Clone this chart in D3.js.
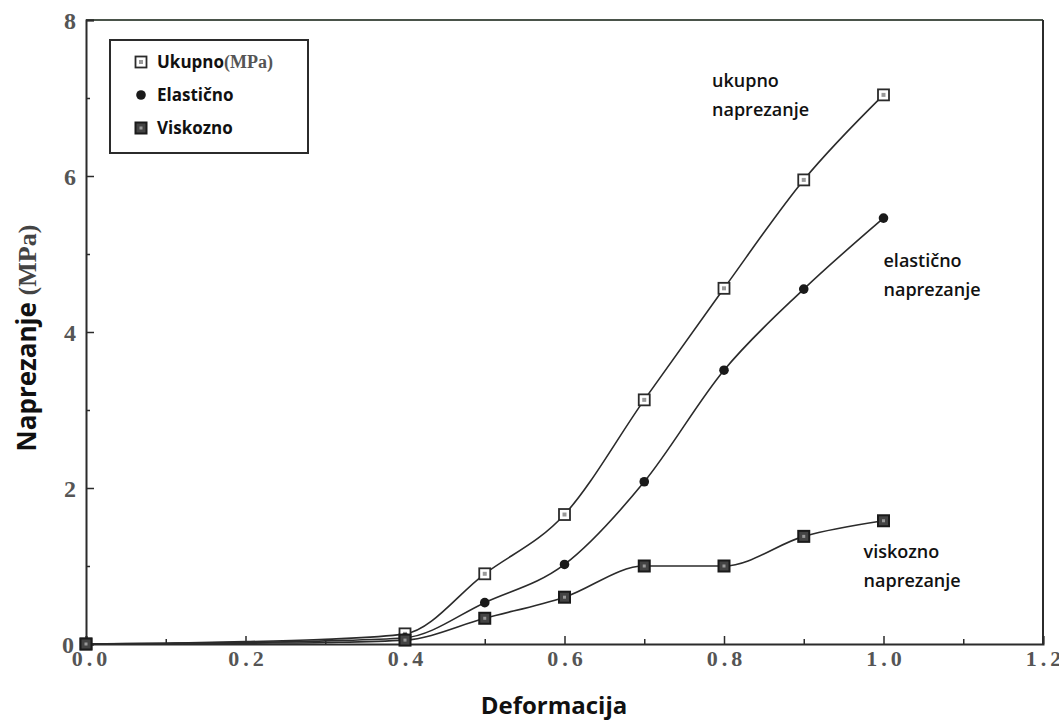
<!DOCTYPE html>
<html>
<head>
<meta charset="utf-8">
<script src="https://cdn.jsdelivr.net/npm/d3@7"></script>
<style>
  html, body { margin: 0; padding: 0; background: #fff; }
  svg { display: block; }
  .tick text { font-family: "Liberation Serif", "DejaVu Serif", serif; font-weight: bold; fill: #555; }
</style>
</head>
<body>
<div id="chart"></div>
<script>
// Data
const deformacija = [0, 0.1, 0.2, 0.3, 0.4, 0.5, 0.6, 0.7, 0.8, 0.9, 1.0];
const ukupno      = [0, 0.01, 0.03, 0.06, 0.13, 0.9, 1.66, 3.13, 4.56, 5.95, 7.04];
const elasticno   = [0, 0.01, 0.02, 0.04, 0.08, 0.53, 1.02, 2.08, 3.51, 4.55, 5.46];
const viskozno    = [0, 0.0, 0.01, 0.02, 0.05, 0.33, 0.6, 1.0, 1.0, 1.38, 1.58];
// points that carry no visible marker in the reference
const unmarkedX = [0.1, 0.2, 0.3];

const xTicks = [0, 0.2, 0.4, 0.6, 0.8, 1.0, 1.2];
const xMinorTicks = [0.1, 0.3, 0.5, 0.7, 0.9, 1.1];
const yTicks = [0, 2, 4, 6, 8];
const yMinorTicks = [1, 3, 5, 7];

const legendLabels = ['Ukupno', 'Elastično', 'Viskozno'];
const annotations = [
  { lines: ['ukupno', 'naprezanje'], x: 0.785, y: 7.14 },
  { lines: ['elastično', 'naprezanje'], x: 1.0, y: 4.83 },
  { lines: ['viskozno', 'naprezanje'], x: 0.975, y: 1.1 }
];

const W = 1059, H = 725;
const svg = d3.select('#chart').append('svg').attr('width', W).attr('height', H);

const x = d3.scaleLinear().domain([0, 1.2]).range([86, 1043]);
const y = d3.scaleLinear().domain([0, 8]).range([644, 20]);

const ink = '#2b2b2b';
const sans = '"Open Sans", Lato, sans-serif';

// Frame (top + right)
svg.append('line').attr('x1', x(0)).attr('x2', x(1.2)).attr('y1', y(8)).attr('y2', y(8))
  .attr('stroke', '#4a544a').attr('stroke-width', 2);
svg.append('line').attr('x1', x(1.2)).attr('x2', x(1.2)).attr('y1', y(8)).attr('y2', y(0))
  .attr('stroke', ink).attr('stroke-width', 2);

// Minor ticks
svg.append('g').attr('transform', `translate(${x(0)},0)`)
  .call(d3.axisLeft(y).tickValues(yMinorTicks).tickSize(-4).tickFormat(''))
  .call(g => g.select('.domain').remove())
  .selectAll('line').attr('stroke', ink).attr('stroke-width', 1.5);
svg.append('g').attr('transform', `translate(0,${y(0)})`)
  .call(d3.axisBottom(x).tickValues(xMinorTicks).tickSize(-5).tickFormat(''))
  .call(g => g.select('.domain').remove())
  .selectAll('line').attr('stroke', ink).attr('stroke-width', 1.5);

// Major axes
const yAxis = svg.append('g').attr('transform', `translate(${x(0)},0)`)
  .call(d3.axisLeft(y).tickValues(yTicks).tickSize(-8).tickPadding(10).tickFormat(d3.format('d')));
yAxis.select('.domain').attr('stroke', ink).attr('stroke-width', 2);
yAxis.selectAll('.tick line').attr('stroke', ink).attr('stroke-width', 1.5);
yAxis.selectAll('.tick text').style('font-size', '24px').attr('dy', '0.35em');
yAxis.selectAll('.tick').filter(d => d === 0).select('text').attr('x', -12);

const xAxis = svg.append('g').attr('transform', `translate(0,${y(0)})`)
  .call(d3.axisBottom(x).tickValues(xTicks).tickSize(-8).tickPadding(6).tickFormat(d3.format('.1f')));
xAxis.select('.domain').attr('stroke', ink).attr('stroke-width', 2);
xAxis.selectAll('.tick line').attr('stroke', ink).attr('stroke-width', 1.5);
xAxis.selectAll('.tick text').style('font-size', '22px').attr('letter-spacing', 4).attr('dx', 2);
xAxis.selectAll('.tick').filter(d => d === 0).select('text').attr('dx', 5);

// Lines
const series = [
  { name: 'ukupno', values: ukupno, marker: 'openSquare' },
  { name: 'elasticno', values: elasticno, marker: 'dot' },
  { name: 'viskozno', values: viskozno, marker: 'filledSquare' }
];

const line = d3.line()
  .x(d => x(d[0]))
  .y(d => y(d[1]))
  .curve(d3.curveMonotoneX);

const plot = svg.append('g');
series.forEach(s => {
  const pts = deformacija.map((d, i) => [d, s.values[i]]);
  plot.append('path').datum(pts)
    .attr('fill', 'none').attr('stroke', ink).attr('stroke-width', 1.6)
    .attr('d', line);
});

function drawMarker(g, type, cx, cy) {
  if (type === 'openSquare') {
    g.append('rect').attr('x', cx - 5.5).attr('y', cy - 5.5).attr('width', 11).attr('height', 11)
      .attr('fill', '#fff').attr('stroke', ink).attr('stroke-width', 1.8);
    g.append('rect').attr('x', cx - 2).attr('y', cy - 2).attr('width', 4).attr('height', 4)
      .attr('fill', '#999');
  } else if (type === 'dot') {
    g.append('circle').attr('cx', cx).attr('cy', cy).attr('r', 4.8).attr('fill', '#1a1a1a');
  } else {
    g.append('rect').attr('x', cx - 5.5).attr('y', cy - 5.5).attr('width', 11).attr('height', 11)
      .attr('fill', '#444').attr('stroke', '#1a1a1a').attr('stroke-width', 2);
    g.append('rect').attr('x', cx - 1.5).attr('y', cy - 1.5).attr('width', 3).attr('height', 3)
      .attr('fill', '#999');
  }
}

const markers = svg.append('g');
series.forEach(s => {
  deformacija.forEach((d, i) => {
    if (unmarkedX.includes(d)) return;
    drawMarker(markers, s.marker, x(d), y(s.values[i]));
  });
});

// Legend
const legend = svg.append('g');
legend.append('rect').attr('x', 110).attr('y', 40).attr('width', 198).attr('height', 113)
  .attr('fill', '#fff').attr('stroke', ink).attr('stroke-width', 2);
legendLabels.forEach((lab, i) => {
  const ly = 62 + i * 33;
  drawMarker(legend, series[i].marker, 141, ly);
  const t = legend.append('text').attr('x', 157).attr('y', ly + 6)
    .attr('font-family', sans).attr('font-weight', 'bold')
    .attr('font-size', 17).attr('fill', '#111').text(lab);
  if (i === 0) {
    t.append('tspan').attr('font-family', '"Liberation Serif", serif').attr('fill', '#555')
      .attr('font-size', 18).text('(MPa)');
  }
});

// Curve annotations
annotations.forEach(a => {
  const t = svg.append('text')
    .attr('font-family', sans).attr('font-weight', 600)
    .attr('font-size', 18).attr('fill', '#111');
  a.lines.forEach((l, i) => {
    t.append('tspan').attr('x', x(a.x)).attr('y', y(a.y) + i * 29).text(l);
  });
});

// Axis titles
svg.append('text').attr('x', 554).attr('y', 714).attr('text-anchor', 'middle')
  .attr('font-family', sans).attr('font-weight', 'bold')
  .attr('font-size', 24).attr('fill', '#111').text('Deformacija');

const yt = svg.append('text').attr('transform', 'translate(36,338) rotate(-90)')
  .attr('text-anchor', 'middle').attr('font-weight', 'bold').attr('font-size', 26).attr('fill', '#111')
  .attr('font-family', sans);
yt.append('tspan').text('Naprezanje ');
yt.append('tspan').attr('font-family', '"Liberation Serif", serif').attr('fill', '#444').text('(MPa)');
</script>
</body>
</html>
